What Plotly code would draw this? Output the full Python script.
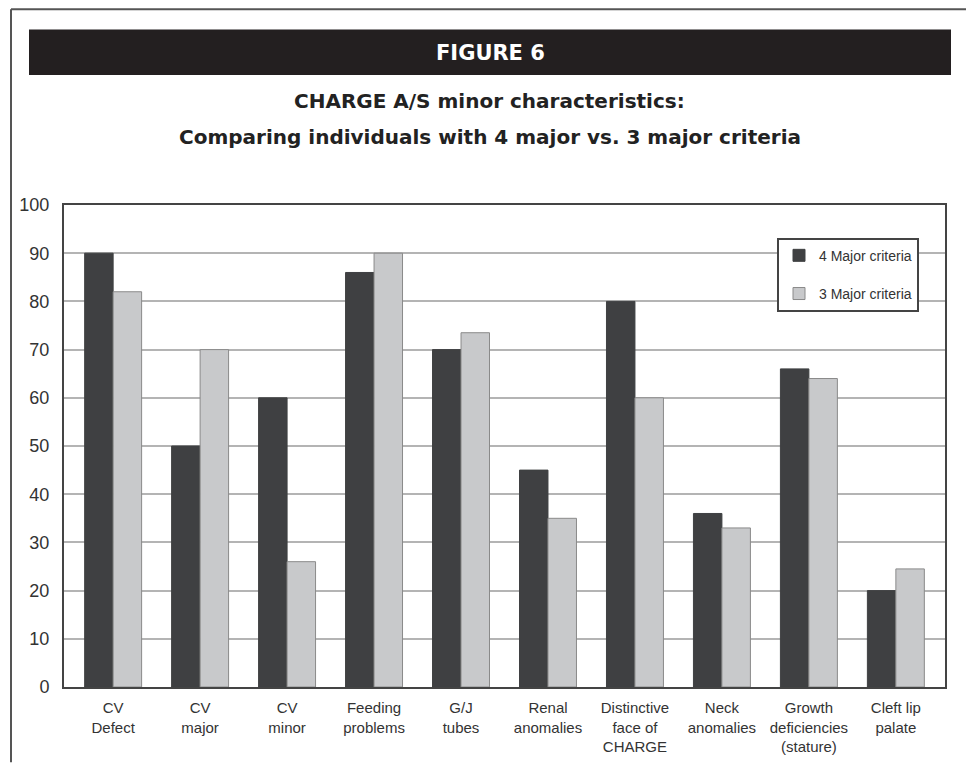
import plotly.graph_objects as go

categories = ["CV<br>Defect", "CV<br>major", "CV<br>minor", "Feeding<br>problems", "G/J<br>tubes",
              "Renal<br>anomalies", "Distinctive<br>face of<br>CHARGE", "Neck<br>anomalies",
              "Growth<br>deficiencies<br>(stature)", "Cleft lip<br>palate"]
four_major = [90, 50, 60, 86, 70, 45, 80, 36, 66, 20]
three_major = [82, 70, 26, 90, 73.5, 35, 60, 33, 64, 24.5]
series_names = ["4 Major criteria", "3 Major criteria"]
y_ticks = [0, 10, 20, 30, 40, 50, 60, 70, 80, 90, 100]

W, H = 966, 767
L, R, T, B = 64, 945, 205, 691

def px(x):
    return (x - L) / (R - L)

def py(y):
    return (B - y) / (B - T)

fig = go.Figure()
fig.add_trace(go.Bar(
    x=list(range(len(categories))), y=four_major, name=series_names[0],
    marker=dict(color="#3f4042", line=dict(color="#3f4042", width=1)),
    legendgroup="a",
))
fig.add_trace(go.Bar(
    x=list(range(len(categories))), y=three_major, name=series_names[1],
    marker=dict(color="#c8c9cb", line=dict(color="#8a8a8a", width=1)),
    legendgroup="b",
))

title_font = dict(family="DejaVu Sans", size=20, color="#222222")

fig.update_layout(
    width=W, height=H,
    margin=dict(l=L, r=W - R, t=T, b=H - B, pad=0),
    paper_bgcolor="white", plot_bgcolor="white",
    barmode="group", bargap=0.345, bargroupgap=0,
    showlegend=True,
    legend=dict(
        x=px(777), y=py(238), xanchor="left", yanchor="top",
        bordercolor="#444444", borderwidth=2, bgcolor="white",
        font=dict(family="Liberation Sans", size=14, color="#333333"),
        traceorder="grouped", tracegroupgap=17,
    ),
    xaxis=dict(
        tickmode="array", tickvals=list(range(len(categories))), ticktext=categories,
        range=[-0.565, 9.565], showgrid=False, zeroline=False,
        showline=True, linecolor="#444444", linewidth=2, mirror=True,
        ticks="", tickfont=dict(family="Liberation Sans", size=15, color="#333333"),
        ticklabelstandoff=6,
    ),
    yaxis=dict(
        range=[0, 100], tickmode="array", tickvals=y_ticks,
        showgrid=True, gridcolor="#b4b4b4", gridwidth=1.5, zeroline=False,
        showline=True, linecolor="#444444", linewidth=2, mirror=True,
        ticks="", tickfont=dict(family="Liberation Sans", size=18, color="#333333"),
        ticklabelstandoff=9,
    ),
    shapes=[
        dict(type="line", xref="paper", yref="paper", x0=px(11), x1=px(11), y0=py(7.5), y1=py(767),
             line=dict(color="#555555", width=2)),
        dict(type="line", xref="paper", yref="paper", x0=px(11), x1=px(966), y0=py(7.5), y1=py(7.5),
             line=dict(color="#555555", width=2)),
        dict(type="rect", xref="paper", yref="paper", x0=px(29), x1=px(951), y0=py(74), y1=py(28),
             fillcolor="#231f20", line=dict(width=0)),
    ],
    annotations=[
        dict(text="<b>FIGURE 6</b>", xref="paper", yref="paper", x=px(490), y=py(52),
             showarrow=False, xanchor="center", yanchor="middle",
             font=dict(family="DejaVu Sans", size=21, color="white")),
        dict(text="<b>CHARGE A/S minor characteristics:</b>", xref="paper", yref="paper",
             x=px(489), y=py(100), showarrow=False, xanchor="center", yanchor="middle",
             font=title_font),
        dict(text="<b>Comparing individuals with 4 major vs. 3 major criteria</b>", xref="paper",
             yref="paper", x=px(490), y=py(136), showarrow=False, xanchor="center",
             yanchor="middle", font=title_font),
    ],
)

fig.write_html("out.html", config={"displayModeBar": False},
               post_script="document.body.style.margin='0px';")
